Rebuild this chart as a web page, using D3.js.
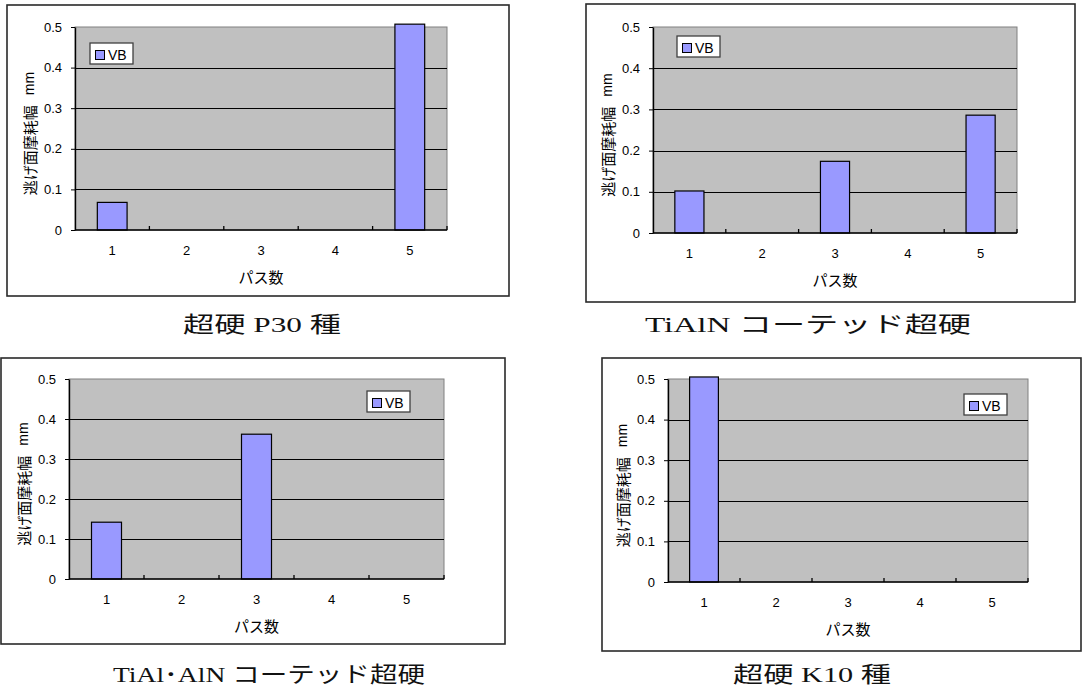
<!DOCTYPE html>
<html>
<head>
<meta charset="utf-8">
<script src="https://cdn.jsdelivr.net/npm/d3@7"></script>
<style>
  html, body { margin: 0; padding: 0; background: #ffffff; }
  svg { display: block; }
</style>
</head>
<body>
<svg id="chart" width="1083" height="695"></svg>
<script>
// Pass numbers on the x axis
const categories = ["1", "2", "3", "4", "5"];

// Flank wear width VB (mm) per pass, one array per tool; null = not measured
const vbP30 = [0.068, null, null, null, 0.507];
const vbTiAlN = [0.102, null, 0.174, null, 0.286];
const vbTiAlAlN = [0.142, null, 0.362, null, null];
const vbK10 = [0.505, null, null, null, null];

// Y-axis tick values
const yTicks = [0, 0.1, 0.2, 0.3, 0.4, 0.5];

// Text
const captions = ["超硬 P30 種", "TiAlN コーテッド超硬", "TiAl･AlN コーテッド超硬", "超硬 K10 種"];
const legendLabel = "VB";
const yTitleJp = "逃げ面摩耗幅";
const yTitleUnit = "mm";
const xTitle = "パス数";

// Layout of the four panels (frame box, plot box, legend position, caption centre)
const panels = [
  { values: vbP30, caption: captions[0],
    frame: [7, 5, 509, 296], plot: [75, 27, 447, 230], legend: [90, 43], cap: [262, 324] },
  { values: vbTiAlN, caption: captions[1],
    frame: [586, 4, 1075, 302], plot: [653, 27, 1017, 233], legend: [677, 36], cap: [808, 324] },
  { values: vbTiAlAlN, caption: captions[2],
    frame: [1, 358, 505, 644], plot: [69, 379, 444, 579], legend: [367, 391], cap: [269, 674] },
  { values: vbK10, caption: captions[3],
    frame: [602, 358, 1081, 651], plot: [668, 379, 1028, 582], legend: [964, 394], cap: [812, 674] }
];

const svg = d3.select("#chart");
const sansFont = "'Liberation Sans', Arial, 'Noto Sans CJK JP', sans-serif";
const jpFont = "'Noto Sans CJK JP', 'Liberation Sans', sans-serif";
const captionFont = "'Liberation Serif', 'Noto Sans CJK JP', serif";

panels.forEach(p => {
  const [fx0, fy0, fx1, fy1] = p.frame;
  const [px0, py0, px1, py1] = p.plot;
  const g = svg.append("g");

  // Outer chart frame
  g.append("rect")
    .attr("x", fx0).attr("y", fy0)
    .attr("width", fx1 - fx0).attr("height", fy1 - fy0)
    .attr("fill", "#ffffff").attr("stroke", "#2a2a2a").attr("stroke-width", 1.6);

  const x = d3.scaleBand().domain(categories).range([px0, px1])
    .paddingInner(0.6).paddingOuter(0.3);
  const xCell = d3.scaleBand().domain(categories).range([px0, px1]).padding(0);
  const y = d3.scaleLinear().domain([0, 0.5]).range([py1, py0]);

  // Plot area
  g.append("rect")
    .attr("x", px0).attr("y", py0)
    .attr("width", px1 - px0).attr("height", py1 - py0)
    .attr("fill", "#c0c0c0").attr("stroke", "#808080").attr("stroke-width", 1);

  // Horizontal gridlines
  g.append("g").selectAll("line")
    .data(yTicks.filter(t => t > 0 && t < 0.5))
    .join("line")
    .attr("x1", px0).attr("x2", px1)
    .attr("y1", d => Math.round(y(d)) + 0.5).attr("y2", d => Math.round(y(d)) + 0.5)
    .attr("stroke", "#000000").attr("stroke-width", 1);

  // Bars
  g.append("g").selectAll("rect")
    .data(categories.map((c, i) => ({ c, v: p.values[i] })).filter(d => d.v != null))
    .join("rect")
    .attr("x", d => x(d.c))
    .attr("y", d => y(d.v))
    .attr("width", x.bandwidth())
    .attr("height", d => y(0) - y(d.v))
    .attr("fill", "#9999ff").attr("stroke", "#000000").attr("stroke-width", 1.2);

  // Y axis
  const yAxis = g.append("g")
    .attr("transform", `translate(${px0},0)`)
    .call(d3.axisLeft(y).tickValues(yTicks)
      .tickFormat(d => d === 0 ? "0" : d3.format(".1f")(d))
      .tickSizeInner(4).tickSizeOuter(0).tickPadding(9));
  yAxis.select(".domain").attr("stroke", "#000000").attr("stroke-width", 1.4);
  yAxis.selectAll("text").attr("font-family", sansFont).attr("font-size", 13).attr("fill", "#000");

  // X axis line with category-boundary tick marks pointing into the plot
  g.append("line")
    .attr("x1", px0).attr("x2", px1)
    .attr("y1", py1).attr("y2", py1)
    .attr("stroke", "#000000").attr("stroke-width", 1.6);
  g.append("g").selectAll("line")
    .data(categories.slice(1).concat(["end"]))
    .join("line")
    .attr("x1", d => d === "end" ? px1 : xCell(d))
    .attr("x2", d => d === "end" ? px1 : xCell(d))
    .attr("y1", py1).attr("y2", py1 - 4)
    .attr("stroke", "#000000").attr("stroke-width", 1.3);

  const xAxis = g.append("g")
    .attr("transform", `translate(0,${py1})`)
    .call(d3.axisBottom(xCell).tickSize(0).tickPadding(16));
  xAxis.select(".domain").remove();
  xAxis.selectAll("text").attr("font-family", sansFont).attr("font-size", 13).attr("fill", "#000");

  // Axis titles
  const yt = g.append("text")
    .attr("transform", `translate(${px0 - 46},${(py0 + py1) / 2 + 5}) rotate(-90)`)
    .attr("text-anchor", "middle").attr("dominant-baseline", "central")
    .attr("font-family", jpFont).attr("font-size", 15).attr("fill", "#000");
  yt.append("tspan").text(yTitleJp);
  yt.append("tspan").attr("dx", 10).attr("font-family", sansFont).attr("font-size", 14).text(yTitleUnit);

  g.append("text")
    .attr("x", (px0 + px1) / 2).attr("y", py1 + 46)
    .attr("text-anchor", "middle").attr("dominant-baseline", "central")
    .attr("font-family", jpFont).attr("font-size", 15).attr("fill", "#000")
    .text(xTitle);

  // Legend
  const [lx, ly] = p.legend;
  const lg = g.append("g").attr("transform", `translate(${lx},${ly})`);
  lg.append("rect").attr("x", 0).attr("y", 0).attr("width", 43).attr("height", 21)
    .attr("fill", "#ffffff").attr("stroke", "#404040").attr("stroke-width", 1.3);
  lg.append("rect").attr("x", 5.5).attr("y", 7.5).attr("width", 9).attr("height", 9)
    .attr("fill", "#9999ff").attr("stroke", "#000000").attr("stroke-width", 1);
  lg.append("text").attr("x", 18).attr("y", 12)
    .attr("dominant-baseline", "central")
    .attr("font-family", sansFont).attr("font-size", 14).attr("fill", "#000")
    .text(legendLabel);

  // Caption below the chart
  const capLen = { [captions[0]]: 158, [captions[1]]: 326, [captions[2]]: 312, [captions[3]]: 158 }[p.caption];
  svg.append("text")
    .attr("x", p.cap[0]).attr("y", p.cap[1])
    .attr("text-anchor", "middle").attr("dominant-baseline", "central")
    .attr("font-family", captionFont).attr("font-size", 22).attr("fill", "#111")
    .attr("textLength", capLen).attr("lengthAdjust", "spacingAndGlyphs")
    .text(p.caption);
});
</script>
</body>
</html>
